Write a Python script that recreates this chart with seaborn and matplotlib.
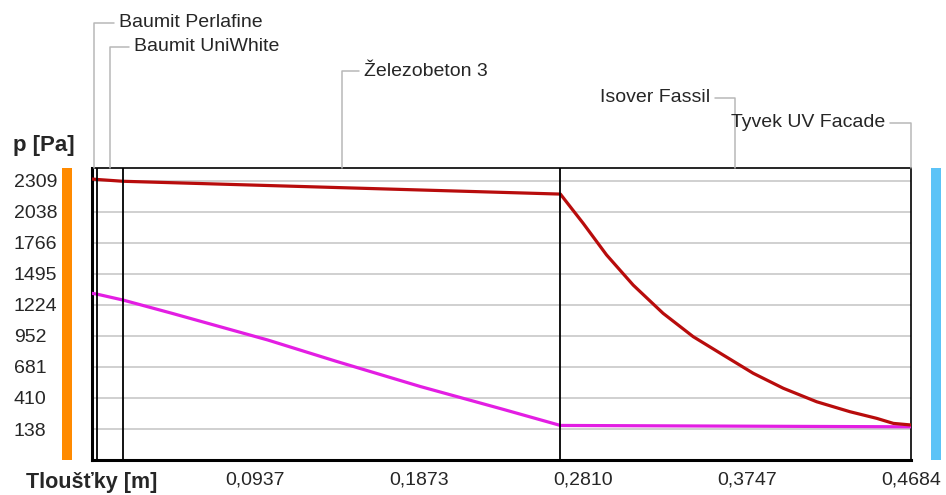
import numpy as np
import pandas as pd
import matplotlib.pyplot as plt
import seaborn as sns

# skladba konstrukce, tloustky vrstev v m
layer_names = ['Baumit Perlafine', 'Baumit UniWhite', 'Železobeton 3', 'Isover Fassil', 'Tyvek UV Facade']
layer_thick = [0.003, 0.015, 0.25, 0.2, 0.0004]

# nasyceny tlak vodni pary
psat_x = [0.0, 0.003, 0.018, 0.268, 0.281, 0.2944, 0.3096, 0.3267, 0.3439, 0.3610,
          0.3782, 0.3954, 0.4145, 0.4335, 0.4488, 0.4583, 0.4684]
psat_y = [2324, 2320, 2304, 2192, 1937, 1660, 1397, 1150, 946, 786,
          626, 495, 377, 290, 232, 188, 174]

# castecny tlak vodni pary
p_x = [0.0, 0.003, 0.018, 0.046, 0.1007, 0.140, 0.188, 0.235, 0.268, 0.4684]
p_y = [1325, 1318, 1266, 1150, 917, 730, 510, 312, 170, 158]

ytick_vals = [138, 410, 681, 952, 1224, 1495, 1766, 2038, 2309]
xtick_labels = ['Tloušťky [m]', '', '0,0937', '', '0,1873', '', '0,2810', '', '0,3747', '', '0,4684']

W, H = 946, 495

sns.set_style('white')
plt.rcParams['font.family'] = ['Liberation Sans', 'DejaVu Sans']

fig = plt.figure(figsize=(W / 100, H / 100), dpi=100)
ax = fig.add_axes([91.5 / W, (H - 460) / H, (911 - 91.5) / W, 292 / H])

df_sat = pd.DataFrame({'x': psat_x, 'p': psat_y})
df_p = pd.DataFrame({'x': p_x, 'p': p_y})
sns.lineplot(data=df_sat, x='x', y='p', color='#b80c0c', linewidth=2.3, ax=ax, zorder=4)
sns.lineplot(data=df_p, x='x', y='p', color='#e31ee3', linewidth=2.3, ax=ax, zorder=3)

ax.set_xlim(0, sum(layer_thick))
ax.set_ylim(-132, 2420)

# hranice vrstev
bounds = np.cumsum(layer_thick)
for b in bounds[:-2]:
    ax.axvline(b, color='black', linewidth=1.3, zorder=5)

# popisky vrstev s vodici carou
mids = bounds - np.array(layer_thick) / 2
label_pos = [(119, 22.7, 'left'), (134, 46.7, 'left'), (364, 71, 'left'),
             (710, 97.7, 'right'), (885, 122.7, 'right')]
for name, xm, (tx, ty, ha) in zip(layer_names, mids, label_pos):
    ax.annotate(name, xy=(xm, 1.0), xycoords=('data', 'axes fraction'),
                xytext=(tx, H - ty), textcoords='figure pixels',
                ha=ha, va='center', fontsize=14, annotation_clip=False,
                arrowprops=dict(arrowstyle='-', color='#b8b8b8', linewidth=1.1,
                                shrinkA=1.5, shrinkB=0,
                                connectionstyle='angle,angleA=0,angleB=90,rad=0'))

# osy
ax.set_yticks(ytick_vals)
ax.set_yticklabels([str(v) for v in ytick_vals])
ax.yaxis.grid(True, color='#c8c8c8', linewidth=1.2)
ax.tick_params(axis='y', length=0, pad=56, labelsize=14)
for lab in ax.get_yticklabels():
    lab.set_ha('left')

ax.set_xticks(np.linspace(0, sum(layer_thick), 11))
ax.set_xticklabels(xtick_labels)
ax.tick_params(axis='x', direction='in', length=6, color='#a8a8a8', width=1,
               labelsize=14, pad=8.5)
lab0 = ax.get_xticklabels()[0]
lab0.set_fontweight('bold')
lab0.set_fontsize(15.5)

ax.set_xlabel('')
ax.set_ylabel('p [Pa]', rotation=0, ha='left', va='center', fontsize=16, fontweight='bold')
ax.yaxis.set_label_coords((12.7 - 91.5) / (911 - 91.5), (460 - 145) / 292)

for side in ['left', 'bottom']:
    ax.spines[side].set_linewidth(2.2)
    ax.spines[side].set_color('black')
for side in ['top', 'right']:
    ax.spines[side].set_linewidth(1.2)
    ax.spines[side].set_color('black')

# barevne pruhy interier / exterier
fig.add_artist(plt.Rectangle((61.7 / W, (H - 460) / H), 10 / W, 292 / H,
                             transform=fig.transFigure, color='#ff8a00', linewidth=0))
fig.add_artist(plt.Rectangle((930.5 / W, (H - 460) / H), 10.5 / W, 292 / H,
                             transform=fig.transFigure, color='#5cc3f7', linewidth=0))

fig.savefig('out.png', dpi=100)
